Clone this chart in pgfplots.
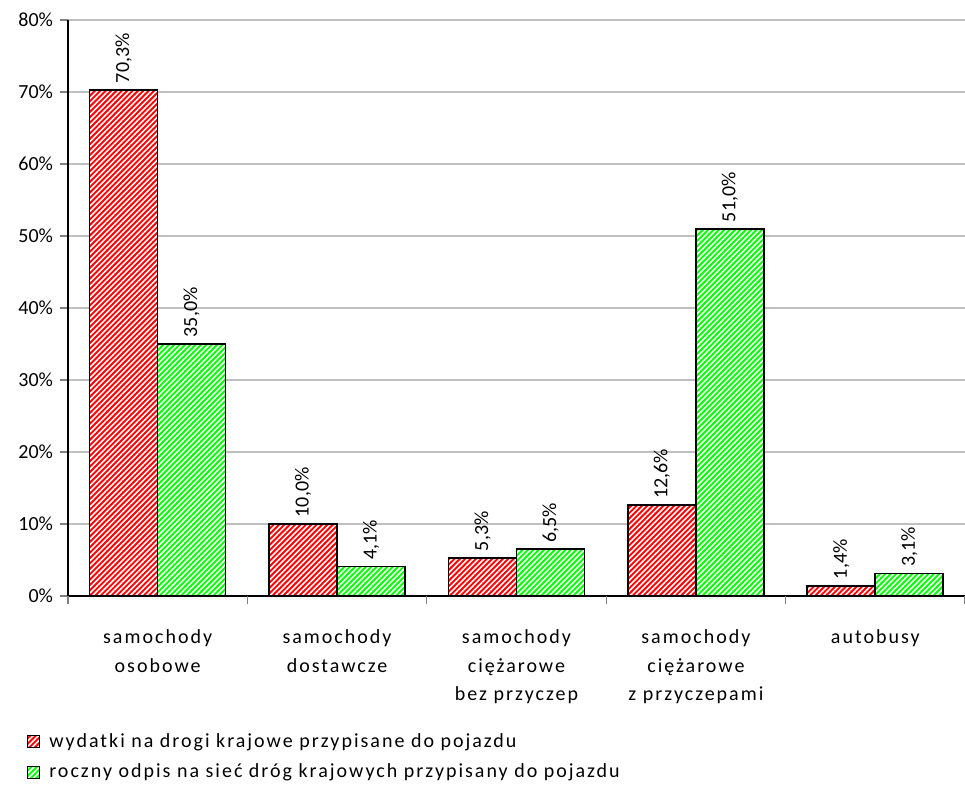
\documentclass[border=0pt]{standalone}
\usepackage{pgfplots}
\pgfplotsset{compat=1.18}
\usepackage{fontspec}
\setmainfont{Carlito}
\newfontfamily\spaced[LetterSpace=10]{Carlito}
\usetikzlibrary{patterns.meta}
\tikzset{
  redbar/.style={fill=red, postaction={pattern={Lines[angle=45,distance=1.9pt,line width=0.8pt]}, pattern color=white}},
  greenbar/.style={fill=green, postaction={pattern={Lines[angle=45,distance=1.9pt,line width=0.8pt]}, pattern color=white}},
}
\begin{document}
\begin{tikzpicture}
\begin{axis}[
  scale only axis,
  width=448.5pt, height=288pt,
  ybar=0pt, bar width=34pt,
  xmin=-0.5, xmax=4.5,
  ymin=0, ymax=80,
  ytick={0,10,...,80},
  yticklabel={\pgfmathprintnumber{\tick}\%},
  /pgf/number format/assume math mode=true,
  font=\fontsize{10pt}{12pt}\selectfont,
  axis x line*=bottom, axis y line*=left,
  axis line style={black, line width=0.8pt, -},
  ymajorgrids, grid style={gray!50, line width=0.6pt},
  y tick style={gray, line width=0.6pt},
  tick align=outside,
  major tick length=4pt,
  xtick={0,1,2,3,4},
  xticklabels={samochody\\osobowe, samochody\\dostawcze, samochody\\ciężarowe\\bez przyczep, samochody\\ciężarowe\\z przyczepami, autobusy},
  x tick style={draw=none},
  xticklabel style={align=center, font=\spaced\fontsize{10pt}{14.2pt}\selectfont, yshift=-9.5pt, anchor=north},
  extra x ticks={-0.5,0.5,1.5,2.5,3.5,4.5},
  extra x tick labels={},
  extra x tick style={x tick style={draw=gray, line width=0.6pt}, major tick length=4pt, grid=none},
  nodes near coords={\pgfmathprintnumber[fixed,fixed zerofill,precision=1,use comma]{\pgfplotspointmeta}\%},
  every node near coord/.append style={rotate=90, anchor=west, font=\fontsize{10pt}{12pt}\selectfont, black, inner sep=2pt, xshift=1pt},
  legend style={at={(-0.046,-0.234)}, anchor=north west, draw=none, fill=none, font=\spaced\fontsize{10pt}{12pt}\selectfont, row sep=5pt, inner sep=0pt, nodes={inner sep=1pt}},
  legend cell align=left,
  legend image code/.code={\draw[#1, line width=0.6pt, draw=black] (0pt,-3pt) rectangle (6pt,3pt);},
  legend style={/tikz/every even column/.append style={column sep=0pt}},
]
\addplot[redbar, draw=black, line width=0.8pt] coordinates {(0,70.3) (1,10.0) (2,5.3) (3,12.6) (4,1.4)};
\addplot[greenbar, draw=black, line width=0.8pt] coordinates {(0,35.0) (1,4.1) (2,6.5) (3,51.0) (4,3.1)};
\legend{\hspace{3.5pt}wydatki na drogi krajowe przypisane do pojazdu, \hspace{3.5pt}roczny odpis na sieć dróg krajowych przypisany do pojazdu}
\end{axis}
\pgfresetboundingbox
\path[use as bounding box] (-34pt,-94.5pt) rectangle (448.5pt,298pt);
\end{tikzpicture}
\end{document}
